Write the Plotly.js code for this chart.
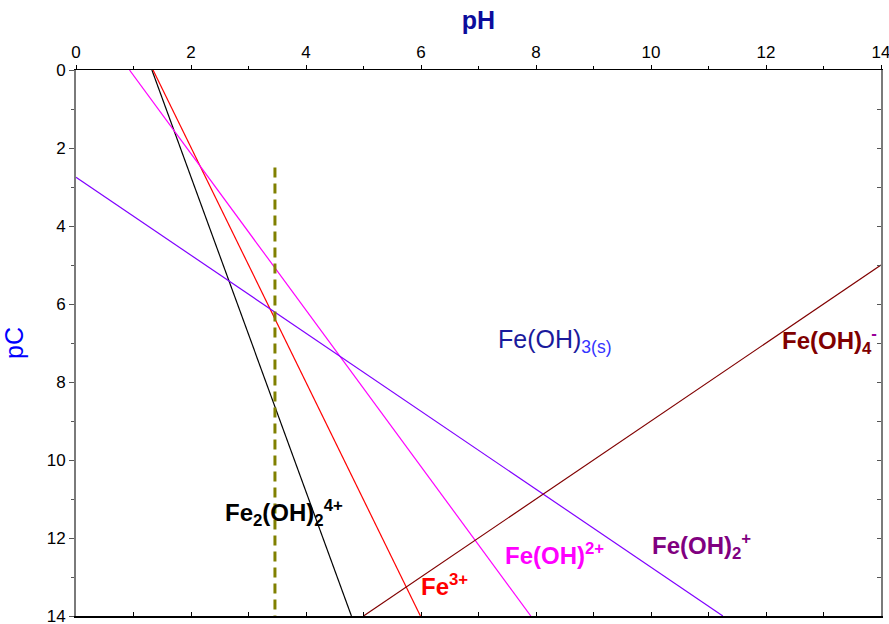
<!DOCTYPE html>
<html>
<head>
<meta charset="utf-8">
<script src="https://cdn.plot.ly/plotly-3.0.1.min.js"></script>
<style>html,body{margin:0;padding:0;background:#fff}#chart{width:889px;height:624px}</style>
</head>
<body>
<div id="chart"></div>
<script>
// Line endpoints (pH, pC)
const pH_Fe2OH2 = [1.32, 4.79];
const pC_Fe2OH2 = [0, 14];
const pH_Fe3 = [1.34, 5.99];
const pC_Fe3 = [0, 14];
const pH_FeOH = [0.93, 7.91];
const pC_FeOH = [0, 14];
const pH_FeOH2 = [0, 11.25];
const pC_FeOH2 = [2.75, 14];
const pH_FeOH4 = [5.0, 14];
const pC_FeOH4 = [14, 5.0];
const pH_marker = [3.46, 3.46];
const pC_marker = [2.5, 14];

// Tick labels
const pHTicks = [0, 2, 4, 6, 8, 10, 12, 14];
const pCTicks = [0, 2, 4, 6, 8, 10, 12, 14];

// Labels
const labelText = [
  'Fe(OH)<sub><span style="color:#3434ff">3(s)</span></sub>',
  '<b>Fe(OH)<sub>4</sub><sup><span style="color:#990099">-</span></sup></b>',
  '<b>Fe<sub>2</sub>(OH)<sub>2</sub><sup>4+</sup></b>',
  '<b>Fe<sup>3+</sup></b>',
  '<b>Fe(OH)<sup>2+</sup></b>',
  '<b>Fe(OH)<sub>2</sub><sup>+</sup></b>'
];
const labelPH = [8.33, 13.97, 3.62, 6.4, 8.33, 10.87];
const labelPC = [6.94, 6.94, 11.35, 13.2, 12.4, 12.2];

const font = 'Liberation Sans, Arial, sans-serif';

const traces = [
  {x: pH_Fe2OH2, y: pC_Fe2OH2, mode: 'lines', line: {color: '#000000', width: 1.2}},
  {x: pH_Fe3, y: pC_Fe3, mode: 'lines', line: {color: '#ff0000', width: 1.2}},
  {x: pH_FeOH, y: pC_FeOH, mode: 'lines', line: {color: '#ff00ff', width: 1.2}},
  {x: pH_FeOH2, y: pC_FeOH2, mode: 'lines', line: {color: '#8000ff', width: 1.2}},
  {x: pH_FeOH4, y: pC_FeOH4, mode: 'lines', line: {color: '#800000', width: 1.2}},
  {x: pH_marker, y: pC_marker, mode: 'lines', line: {color: '#808000', width: 3, dash: '10px,6px'}},
  {x: [], y: [], xaxis: 'x2', yaxis: 'y2', mode: 'lines', hoverinfo: 'skip'}
];

const colors = ['#1a1a9c', '#800000', '#000000', '#ff0000', '#ff00ff', '#800080'];
const sizes = [25, 24, 24, 24, 24, 24];
const anchors = ['center', 'right', 'center', 'center', 'center', 'center'];

const annotations = labelText.map((t, i) => ({
  x: labelPH[i], y: labelPC[i], xref: 'x', yref: 'y', text: t, showarrow: false,
  xanchor: anchors[i], yanchor: 'middle',
  font: {family: font, size: sizes[i], color: colors[i]}
}));

const layout = {
  width: 889, height: 624,
  margin: {l: 76, r: 8, t: 70, b: 8},
  paper_bgcolor: '#ffffff', plot_bgcolor: '#ffffff',
  showlegend: false,
  font: {family: font, size: 17, color: '#000'},
  xaxis: {
    side: 'top', range: [0, 14], tickmode: 'array', tickvals: pHTicks, ticktext: pHTicks.map(String),
    showgrid: false, zeroline: false, ticklabeloverflow: 'allow',
    showline: true, linecolor: '#000', linewidth: 1.5,
    ticks: 'outside', ticklen: 4, tickcolor: '#000', tickwidth: 1,
    minor: {ticks: 'outside', dtick: 1, tick0: 0, ticklen: 3, tickcolor: '#000', showgrid: false},
    tickfont: {family: font, size: 17, color: '#000'},
    title: {text: '<b>pH</b>', font: {family: font, size: 25, color: '#0c0c9c'}, standoff: 6}
  },
  xaxis2: {
    overlaying: 'x', side: 'bottom', range: [0, 14], dtick: 1, tick0: 0,
    showgrid: false, zeroline: false, showticklabels: false,
    showline: true, linecolor: '#000', linewidth: 1.5,
    ticks: 'inside', ticklen: 4, tickcolor: '#000'
  },
  yaxis: {
    range: [14, 0], tickmode: 'array', tickvals: pCTicks, ticktext: pCTicks.map(String),
    showgrid: false, zeroline: false, ticklabeloverflow: 'allow',
    showline: true, linecolor: '#7a7a7a', linewidth: 2,
    ticks: 'outside', ticklen: 5, tickcolor: '#555', tickwidth: 1,
    minor: {ticks: 'outside', dtick: 1, tick0: 0, ticklen: 3, tickcolor: '#555', showgrid: false},
    tickfont: {family: font, size: 17, color: '#000'},
    title: {text: 'pC', font: {family: font, size: 25, color: '#0000ff'}, standoff: 16}
  },
  yaxis2: {
    overlaying: 'y', side: 'right', range: [14, 0], dtick: 1, tick0: 0,
    showgrid: false, zeroline: false, showticklabels: false,
    showline: true, linecolor: '#7a7a7a', linewidth: 2,
    ticks: 'inside', ticklen: 4, tickcolor: '#555'
  },
  annotations: annotations
};

Plotly.newPlot('chart', traces, layout, {displayModeBar: false, staticPlot: true});
</script>
</body>
</html>
